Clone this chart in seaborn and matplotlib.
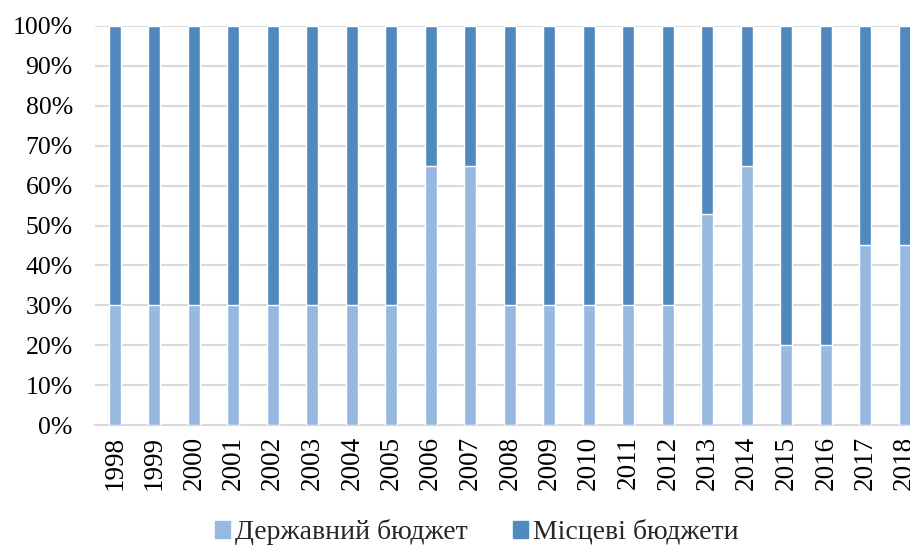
import matplotlib
matplotlib.use("Agg")
import matplotlib.pyplot as plt
import seaborn as sns
import pandas as pd
from matplotlib.patches import Patch
from matplotlib.ticker import PercentFormatter

years = [str(y) for y in range(1998, 2019)]
state_share = [30, 30, 30, 30, 30, 30, 30, 30, 65, 65, 30, 30, 30, 30, 30, 53, 65, 20, 20, 45, 45]
local_share = [100 - s for s in state_share]

state_label = "Державний бюджет"
local_label = "Місцеві бюджети"
light = "#97B9E0"
dark = "#4F89BD"

df = pd.DataFrame({"year": years, "state": state_share, "local": local_share})
df["total"] = df["state"] + df["local"]

sns.set_style("white")
plt.rcParams["font.family"] = ["Liberation Serif", "DejaVu Serif"]

fig = plt.figure(figsize=(9.10, 5.47), dpi=100)
ax = fig.add_axes([95 / 910, 1 - 425 / 547, 829.5 / 910, 399 / 547])

# stacked: draw total first (local on top), then state share over it
sns.barplot(data=df, x="year", y="total", color=dark, width=0.31, ax=ax, saturation=1, zorder=3)
sns.barplot(data=df, x="year", y="state", color=light, width=0.31, ax=ax, saturation=1, zorder=4)

ax.set_xlim(-0.5, len(years) - 0.5)
ax.set_ylim(0, 100)
ax.set_yticks(range(0, 101, 10))
ax.yaxis.set_major_formatter(PercentFormatter(decimals=0))
ax.grid(True, axis="y", color="#D9D9D9", linewidth=1.5, zorder=0)
ax.set_axisbelow(True)
for side in ["top", "right", "left"]:
    ax.spines[side].set_visible(False)
ax.spines["bottom"].set_color("#D9D9D9")
ax.spines["bottom"].set_linewidth(1.5)
ax.tick_params(axis="both", length=0, colors="black")
ax.tick_params(axis="y", labelsize=18.5, pad=16)
ax.tick_params(axis="x", labelsize=19.5, rotation=90, pad=8)
ax.set_xlabel("")
ax.set_ylabel("")

handles = [Patch(color=light, label=state_label), Patch(color=dark, label=local_label)]
fig.legend(
    handles=handles,
    loc="center",
    bbox_to_anchor=(0.524, 1 - 532 / 547),
    ncol=2,
    frameon=False,
    fontsize=20,
    handlelength=0.55,
    handleheight=0.55,
    handletextpad=0.2,
    columnspacing=1.6,
    borderpad=0,
)

fig.savefig("out.png", dpi=100)
